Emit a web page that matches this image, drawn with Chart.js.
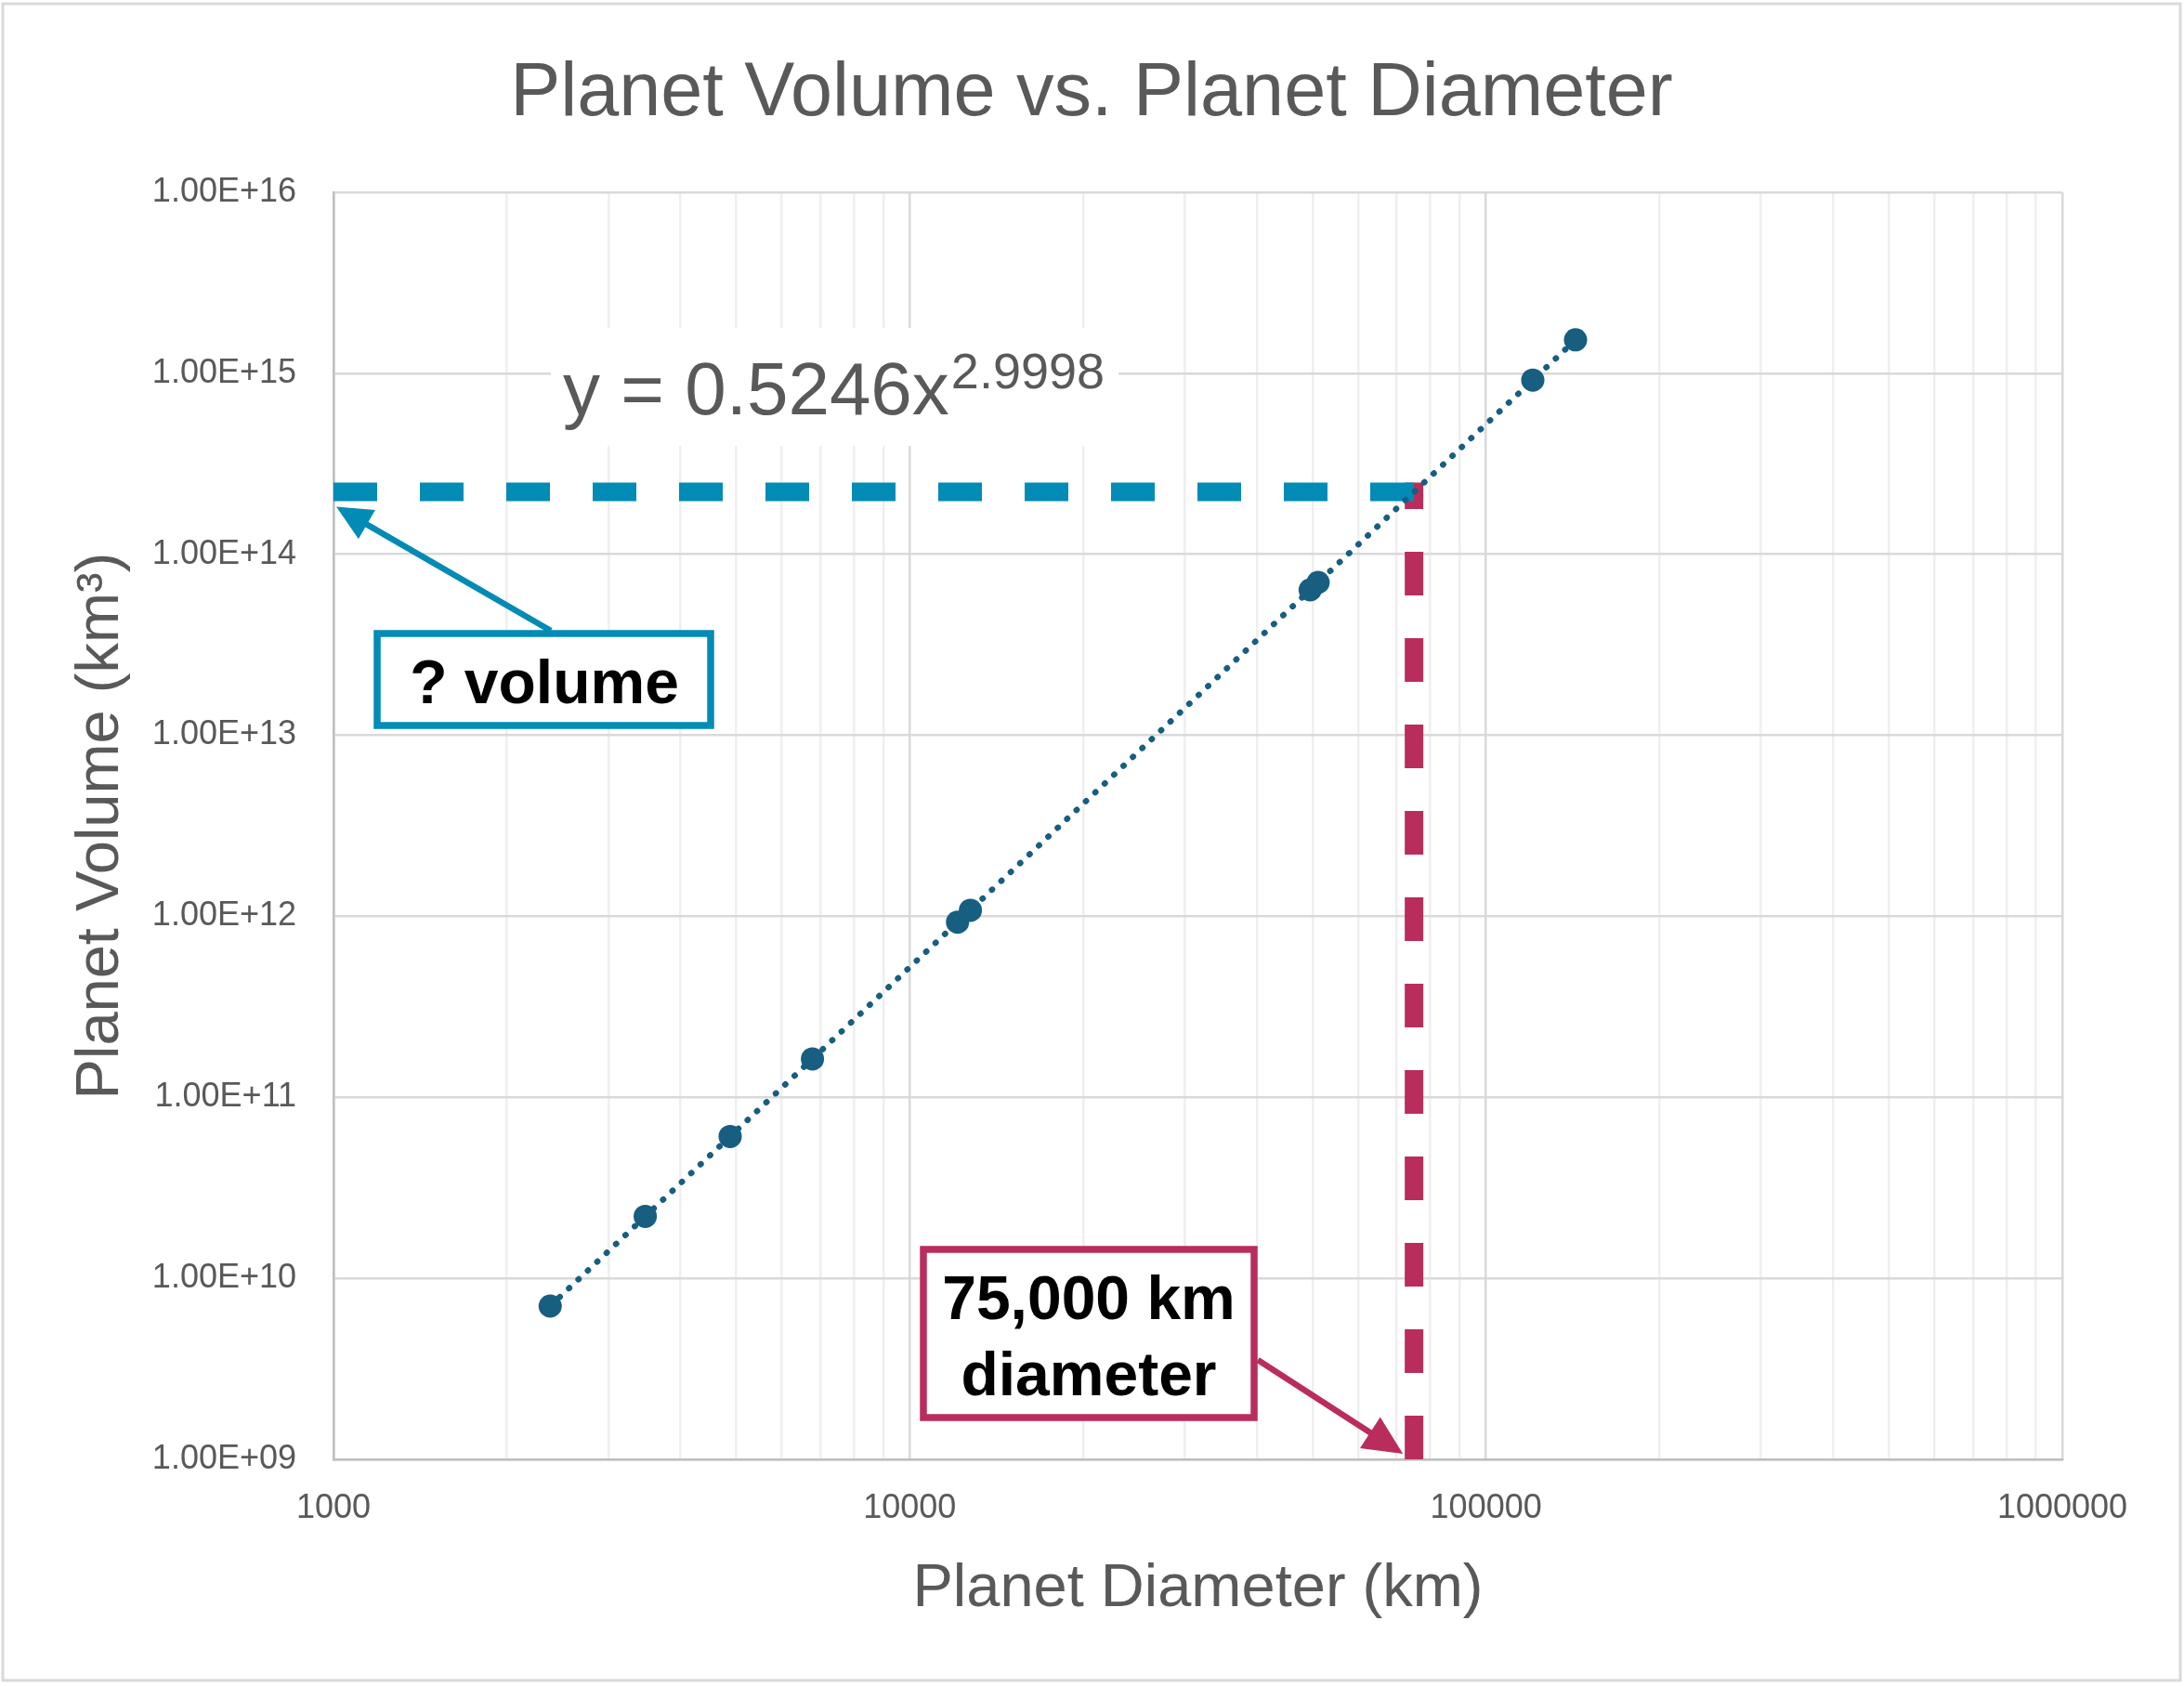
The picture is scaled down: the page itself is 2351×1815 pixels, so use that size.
<!DOCTYPE html>
<html>
<head>
<meta charset="utf-8">
<script src="https://cdn.jsdelivr.net/npm/chart.js@4.4.0/dist/chart.umd.min.js"></script>
<style>
html,body{margin:0;padding:0;background:#ffffff;}
#wrap{width:2351px;height:1815px;position:relative;}
</style>
</head>
<body>
<div id="wrap"><canvas id="c" width="2351" height="1815"></canvas></div>
<script>
// ---- data ----
const planetNames = ['Pluto', 'Moon', 'Mercury', 'Mars', 'Venus', 'Earth', 'Neptune', 'Uranus', 'Saturn', 'Jupiter'];
const diameters = [2377, 3475, 4879, 6779, 12104, 12742, 49528, 51118, 120536, 142984];
const volumes = [7.03e9, 2.20e10, 6.08e10, 1.63e11, 9.29e11, 1.08e12, 6.36e13, 6.99e13, 9.17e14, 1.53e15];
const trendX = [2377, 142984];
const trendY = [7.03e9, 1.53e15];
const targetDiameter = 75000;
const targetVolume = 2.21e14;
const xMajorTicks = [1000, 10000, 100000, 1000000];
const yTicks = [1e9, 1e10, 1e11, 1e12, 1e13, 1e14, 1e15, 1e16];
const chartTitle = 'Planet Volume vs. Planet Diameter';
const xTitle = 'Planet Diameter (km)';
const yTitle = 'Planet Volume (km\u00B3)';
const equationMain = 'y = 0.5246x';
const equationExp = '2.9998';
const volumeLabel = '? volume';
const diameterLabel = ['75,000 km', 'diameter'];

const FONT = "'Liberation Sans', Arial, sans-serif";
const GREY = '#595959';
const BLUE = '#028bb5';
const RED = '#b92d5c';
const DOT = '#175e80';

function isPow10(v) {
  const e = Math.log10(v);
  return Math.abs(e - Math.round(e)) < 1e-9;
}
function sciLabel(v) {
  const e = Math.round(Math.log10(v));
  return '1.00E+' + (e < 10 ? '0' : '') + e;
}
function arrow(ctx, x1, y1, x2, y2, color, w, headLen, headHalf) {
  const ang = Math.atan2(y2 - y1, x2 - x1);
  const bx = x2 - Math.cos(ang) * headLen, by = y2 - Math.sin(ang) * headLen;
  ctx.save();
  ctx.strokeStyle = color; ctx.fillStyle = color; ctx.lineWidth = w; ctx.lineCap = 'butt';
  ctx.beginPath(); ctx.moveTo(x1, y1); ctx.lineTo(bx + Math.cos(ang) * 2, by + Math.sin(ang) * 2); ctx.stroke();
  ctx.beginPath();
  ctx.moveTo(x2, y2);
  ctx.lineTo(bx + Math.sin(ang) * headHalf, by - Math.cos(ang) * headHalf);
  ctx.lineTo(bx - Math.sin(ang) * headHalf, by + Math.cos(ang) * headHalf);
  ctx.closePath(); ctx.fill();
  ctx.restore();
}

const overlay = {
  id: 'overlay',
  beforeDatasetsDraw(chart) {
    const ctx = chart.ctx, xs = chart.scales.x, ys = chart.scales.y, ca = chart.chartArea;
    // equation label with white background
    ctx.save();
    ctx.fillStyle = '#ffffff';
    ctx.fillRect(593, 353, 611, 127);
    ctx.fillStyle = GREY;
    ctx.textBaseline = 'alphabetic';
    ctx.textAlign = 'left';
    ctx.font = '80px ' + FONT;
    ctx.fillText(equationMain, 606, 446);
    const w = ctx.measureText(equationMain).width;
    ctx.font = '54px ' + FONT;
    ctx.fillText(equationExp, 606 + w + 2, 418);
    ctx.restore();

    // guide lines
    const px = xs.getPixelForValue(targetDiameter);
    const py = ys.getPixelForValue(targetVolume);
    ctx.save();
    ctx.lineCap = 'butt';
    ctx.setLineDash([47, 46]);
    ctx.strokeStyle = RED; ctx.lineWidth = 20;
    ctx.beginPath(); ctx.moveTo(px, ca.bottom); ctx.lineTo(px, py - 10); ctx.stroke();
    ctx.strokeStyle = BLUE; ctx.lineWidth = 20;
    ctx.beginPath(); ctx.moveTo(ca.left, py); ctx.lineTo(px + 10, py); ctx.stroke();
    ctx.restore();
  },
  afterDatasetsDraw(chart) {
    const ctx = chart.ctx, xs = chart.scales.x, ys = chart.scales.y, ca = chart.chartArea;
    const px = xs.getPixelForValue(targetDiameter);
    const py = ys.getPixelForValue(targetVolume);
    ctx.save();
    // volume box
    ctx.fillStyle = '#ffffff';
    ctx.fillRect(406, 682, 359, 99);
    ctx.strokeStyle = BLUE; ctx.lineWidth = 7.5;
    ctx.strokeRect(406, 682, 359, 99);
    ctx.fillStyle = '#000000';
    ctx.font = 'bold 66px ' + FONT;
    ctx.textAlign = 'center'; ctx.textBaseline = 'alphabetic';
    ctx.fillText(volumeLabel, 586, 757);
    arrow(ctx, 593, 679, ca.left + 3, py + 16, BLUE, 6.5, 38, 18);

    // diameter box
    ctx.fillStyle = '#ffffff';
    ctx.fillRect(994, 1345, 356, 181);
    ctx.strokeStyle = RED; ctx.lineWidth = 7.5;
    ctx.strokeRect(994, 1345, 356, 181);
    ctx.fillStyle = '#000000';
    ctx.font = 'bold 66px ' + FONT;
    ctx.fillText(diameterLabel[0], 1172, 1420);
    ctx.fillText(diameterLabel[1], 1172, 1502);
    arrow(ctx, 1354, 1464, px - 12, ca.bottom - 6, RED, 6.5, 42, 20);
    ctx.restore();
  },
  afterDraw(chart) {
    const ctx = chart.ctx;
    ctx.save();
    ctx.fillStyle = GREY;
    ctx.font = '81px ' + FONT;
    ctx.textAlign = 'center'; ctx.textBaseline = 'alphabetic';
    ctx.fillText(chartTitle, 1175, 124);
    ctx.strokeStyle = '#d9d9d9'; ctx.lineWidth = 3;
    ctx.strokeRect(3, 4, 2344, 1805);
    ctx.restore();
  }
};

Chart.defaults.font.family = FONT;
Chart.defaults.color = GREY;

new Chart(document.getElementById('c'), {
  type: 'scatter',
  data: {
    datasets: [
      {
        label: 'Planets',
        data: diameters.map((d, i) => ({x: d, y: volumes[i]})),
        pointRadius: 12.5,
        pointBackgroundColor: DOT,
        pointBorderColor: DOT,
        pointBorderWidth: 0,
        showLine: false
      },
      {
        label: 'Power trendline',
        data: trendX.map((d, i) => ({x: d, y: trendY[i]})),
        showLine: true,
        pointRadius: 0,
        borderColor: DOT,
        borderWidth: 6.5,
        borderDash: [0.5, 13.4],
        borderCapStyle: 'round',
        fill: false
      }
    ]
  },
  options: {
    responsive: false,
    animation: false,
    devicePixelRatio: 1,
    layout: {padding: {left: 30, right: 131, top: 207, bottom: 40}},
    plugins: {legend: {display: false}, tooltip: {enabled: false}, title: {display: false}},
    scales: {
      x: {
        type: 'logarithmic',
        min: 1000, max: 1000000,
        afterBuildTicks(scale) {
          const t = [];
          for (let i = 0; i < xMajorTicks.length; i++) {
            const base = xMajorTicks[i];
            t.push({value: base, major: true});
            if (i < xMajorTicks.length - 1) {
              for (let k = 2; k <= 9; k++) t.push({value: base * k});
            }
          }
          scale.ticks = t;
        },
        afterFit(scale) { scale.height = 1815 - 40 - 1571; },
        ticks: {
          autoSkip: false, maxRotation: 0, padding: 31,
          font: {size: 36}, color: GREY,
          callback: (v) => isPow10(v) ? String(Math.round(v)) : ''
        },
        grid: {
          drawTicks: false,
          lineWidth: 2.5,
          color: (c) => (c.tick && isPow10(c.tick.value)) ? '#d9d9d9' : '#efefef'
        },
        border: {display: true, color: '#bfbfbf', width: 2.5},
        title: {display: true, text: xTitle, font: {size: 65}, color: GREY, padding: {top: 0, bottom: 25}}
      },
      y: {
        type: 'logarithmic',
        min: 1e9, max: 1e16,
        afterBuildTicks(scale) { scale.ticks = yTicks.map(v => ({value: v, major: true})); },
        afterFit(scale) { scale.width = 359 - 30; },
        ticks: {
          autoSkip: false, padding: 40,
          font: {size: 36}, color: GREY,
          callback: (v) => sciLabel(v)
        },
        grid: {drawTicks: false, lineWidth: 2.5, color: '#d9d9d9'},
        border: {display: true, color: '#bfbfbf', width: 2.5},
        title: {display: true, text: yTitle, font: {size: 65}, color: GREY, padding: {top: 40, bottom: 0}}
      }
    }
  },
  plugins: [overlay]
});
</script>
</body>
</html>
